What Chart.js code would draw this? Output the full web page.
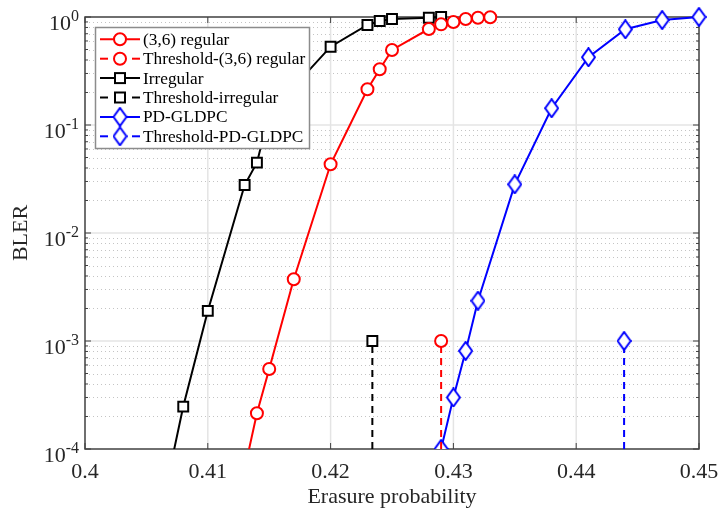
<!DOCTYPE html>
<html>
<head>
<meta charset="utf-8">
<script src="https://cdn.jsdelivr.net/npm/chart.js@4.4.1/dist/chart.umd.min.js"></script>
<style>
  html, body { margin: 0; padding: 0; background: #fff; }
  #wrap { width: 723px; height: 516px; position: relative; }
</style>
</head>
<body>
<div id="wrap"><canvas id="chart"></canvas></div>
<script>
const SERIF = '"Liberation Serif", "Times New Roman", serif';
const AXIS_COLOR = '#404040';
const TEXT_COLOR = '#262626';

// BLER vs erasure probability for each code
const regularX = [0.413, 0.414, 0.415, 0.417, 0.42, 0.423, 0.424, 0.425, 0.428, 0.429, 0.43, 0.431, 0.432, 0.433];
const regularBler = [6.5e-5, 2.14e-4, 5.5e-4, 3.73e-3, 0.0433, 0.214, 0.328, 0.495, 0.774, 0.855, 0.899, 0.958, 0.985, 0.995];
const irregularX = [0.407, 0.408, 0.41, 0.413, 0.414, 0.415, 0.42, 0.423, 0.424, 0.425, 0.428, 0.429];
const irregularBler = [7.2e-5, 2.47e-4, 1.9e-3, 0.0278, 0.0448, 0.127, 0.531, 0.843, 0.918, 0.958, 0.985, 1.0];
const gldpcX = [0.429, 0.43, 0.431, 0.432, 0.435, 0.438, 0.441, 0.444, 0.447, 0.45];
const gldpcBler = [1e-4, 3e-4, 8.1e-4, 2.36e-3, 0.0282, 0.143, 0.424, 0.77, 0.938, 1.0];

// BP thresholds, drawn as vertical dashed markers
const thresholdRegular = 0.429;
const thresholdIrregular = 0.4234;
const thresholdGldpc = 0.4439;
const thresholdBler = [1e-4, 1e-3];

const xTicks = [0.4, 0.41, 0.42, 0.43, 0.44, 0.45];
const yTicks = [1, 1e-1, 1e-2, 1e-3, 1e-4];
const yTickExponents = ['0', '-1', '-2', '-3', '-4'];
const seriesLabels = ['(3,6) regular', 'Threshold-(3,6) regular', 'Irregular', 'Threshold-irregular', 'PD-GLDPC', 'Threshold-PD-GLDPC'];

const RED = '#ff0000';
const BLACK = '#000000';
const BLUE = '#0000ff';

// tall diamond marker (Chart.js rectRot is a square)
function makeDiamond(color) {
    const c = document.createElement('canvas');
    c.width = 15;
    c.height = 20;
    const g = c.getContext('2d');
    g.beginPath();
    g.moveTo(7.5, 1);
    g.lineTo(14, 10);
    g.lineTo(7.5, 19);
    g.lineTo(1, 10);
    g.closePath();
    g.fillStyle = '#fff';
    g.fill();
    g.strokeStyle = color;
    g.lineWidth = 2;
    g.stroke();
    return c;
}
const diamond = makeDiamond(BLUE);

const toPoints = (xs, ys) => xs.map((x, i) => ({ x: x, y: ys[i] }));
const vertical = (x) => thresholdBler.map(y => ({ x: x, y: y }));
const clipBottom = { left: false, right: false, top: false, bottom: 0 };

// marker radius per style: squares need a larger radius to match the circles
const markerRadius = { circle: 6, rect: 7 };

function curve(label, data, color, style) {
    return {
        label: label,
        data: data,
        borderColor: color,
        backgroundColor: '#fff',
        borderWidth: 2,
        pointStyle: style,
        pointRadius: markerRadius[style] || 6,
        pointBorderWidth: 2,
        pointBackgroundColor: '#fff',
        pointBorderColor: color,
        clip: clipBottom
    };
}

function threshold(label, x, color, style) {
    const ds = curve(label, vertical(x), color, style);
    ds.borderDash = [7, 5];
    ds.pointRadius = [0, markerRadius[style] || 6];
    return ds;
}

const datasets = [
    curve(seriesLabels[0], toPoints(regularX, regularBler), RED, 'circle'),
    threshold(seriesLabels[1], thresholdRegular, RED, 'circle'),
    curve(seriesLabels[2], toPoints(irregularX, irregularBler), BLACK, 'rect'),
    threshold(seriesLabels[3], thresholdIrregular, BLACK, 'rect'),
    curve(seriesLabels[4], toPoints(gldpcX, gldpcBler), BLUE, diamond),
    threshold(seriesLabels[5], thresholdGldpc, BLUE, diamond)
];

function hline(ctx, x0, x1, y) {
    ctx.beginPath();
    ctx.moveTo(x0, y);
    ctx.lineTo(x1, y);
    ctx.stroke();
}

function vline(ctx, x, y0, y1) {
    ctx.beginPath();
    ctx.moveTo(x, y0);
    ctx.lineTo(x, y1);
    ctx.stroke();
}

// grid, box and inward ticks in the usual MATLAB look
const framePlugin = {
    id: 'frame',
    beforeDatasetsDraw(chart) {
        const { ctx, chartArea: a, scales: { x, y } } = chart;
        ctx.save();

        // minor dotted grid on the log axis
        ctx.strokeStyle = '#c4c4c4';
        ctx.lineWidth = 1;
        ctx.setLineDash([1, 3]);
        for (let d = 1; d < yTicks.length; d++) {
            for (let m = 2; m <= 9; m++) {
                const py = Math.round(y.getPixelForValue(yTicks[d] * m)) + 0.5;
                hline(ctx, a.left, a.right, py);
            }
        }
        ctx.setLineDash([]);

        // major grid
        ctx.strokeStyle = '#e4e4e4';
        ctx.lineWidth = 1.5;
        yTicks.slice(1, -1).forEach(v => hline(ctx, a.left, a.right, y.getPixelForValue(v)));
        xTicks.slice(1, -1).forEach(v => vline(ctx, x.getPixelForValue(v), a.top, a.bottom));

        // ticks pointing inward on all four sides
        ctx.strokeStyle = AXIS_COLOR;
        ctx.lineWidth = 1;
        xTicks.forEach(v => {
            const px = x.getPixelForValue(v);
            vline(ctx, px, a.bottom, a.bottom - 6);
            vline(ctx, px, a.top, a.top + 6);
        });
        for (let d = 0; d < yTicks.length; d++) {
            const py = y.getPixelForValue(yTicks[d]);
            hline(ctx, a.left, a.left + 6, py);
            hline(ctx, a.right, a.right - 6, py);
            if (d === 0) continue;
            for (let m = 2; m <= 9; m++) {
                const pm = y.getPixelForValue(yTicks[d] * m);
                hline(ctx, a.left, a.left + 3, pm);
                hline(ctx, a.right, a.right - 3, pm);
            }
        }

        // axes box
        ctx.lineWidth = 1.5;
        ctx.strokeRect(a.left, a.top, a.right - a.left, a.bottom - a.top);

        // 10^k labels on the y axis
        ctx.fillStyle = TEXT_COLOR;
        ctx.textBaseline = 'alphabetic';
        yTicks.forEach((v, i) => {
            const py = y.getPixelForValue(v);
            ctx.font = '16px ' + SERIF;
            const expW = ctx.measureText(yTickExponents[i]).width;
            const expX = a.left - 6 - expW;
            ctx.textAlign = 'left';
            ctx.fillText(yTickExponents[i], expX, py + 4);
            ctx.font = '22px ' + SERIF;
            ctx.textAlign = 'right';
            ctx.fillText('10', expX, py + 13);
        });
        ctx.restore();
    }
};

// boxed legend in the upper left corner, drawn over the curves
const legendPlugin = {
    id: 'boxLegend',
    afterDatasetsDraw(chart) {
        const ctx = chart.ctx;
        const left = 95.5, top = 27.5, width = 214, height = 121;
        const rowStep = 19.4, firstRow = 39.3;
        ctx.save();
        ctx.fillStyle = '#fff';
        ctx.fillRect(left, top, width, height);
        ctx.strokeStyle = '#8c8c8c';
        ctx.lineWidth = 1.5;
        ctx.strokeRect(left, top, width, height);

        chart.data.datasets.forEach((ds, i) => {
            const ry = firstRow + i * rowStep;
            const cx = 120;
            ctx.strokeStyle = ds.borderColor;
            ctx.lineWidth = 2;
            if (ds.borderDash) {
                hline(ctx, 100, 108, ry);
                hline(ctx, 132, 140, ry);
            } else {
                hline(ctx, 100, 140, ry);
            }
            ctx.fillStyle = '#fff';
            if (ds.pointStyle === 'circle') {
                ctx.beginPath();
                ctx.arc(cx, ry, 6, 0, Math.PI * 2);
                ctx.fill();
                ctx.stroke();
            } else if (ds.pointStyle === 'rect') {
                ctx.fillRect(cx - 5, ry - 5, 10, 10);
                ctx.strokeRect(cx - 5, ry - 5, 10, 10);
            } else {
                ctx.drawImage(ds.pointStyle, cx - ds.pointStyle.width / 2, ry - ds.pointStyle.height / 2);
            }
            ctx.fillStyle = BLACK;
            ctx.font = '17.3px ' + SERIF;
            ctx.textAlign = 'left';
            ctx.textBaseline = 'middle';
            ctx.fillText(ds.label, 143, ry + 1);
        });
        ctx.restore();
    }
};

const chart = new Chart(document.getElementById('chart'), {
    type: 'line',
    data: { datasets: datasets },
    options: {
        responsive: true,
        maintainAspectRatio: false,
        devicePixelRatio: 1,
        animation: false,
        layout: { padding: { left: 0, right: 24, top: 17, bottom: 0 } },
        plugins: {
            legend: { display: false },
            tooltip: { enabled: false }
        },
        scales: {
            x: {
                type: 'linear',
                min: 0.4,
                max: 0.45,
                afterBuildTicks: scale => { scale.ticks = xTicks.map(v => ({ value: v })); },
                afterFit: scale => {
                    scale.height = 67;
                    scale.paddingLeft = 0;
                    scale.paddingRight = 0;
                },
                grid: { display: false, drawTicks: false },
                border: { display: false },
                ticks: {
                    padding: 10,
                    color: TEXT_COLOR,
                    font: { family: SERIF, size: 22 },
                    maxRotation: 0,
                    callback: v => String(Number(v.toFixed(2)))
                },
                title: {
                    display: true,
                    text: 'Erasure probability',
                    color: TEXT_COLOR,
                    font: { family: SERIF, size: 22 },
                    padding: { top: 0, bottom: 6 }
                }
            },
            y: {
                type: 'logarithmic',
                min: 1e-4,
                max: 1,
                afterFit: scale => { scale.width = 85; },
                grid: { display: false, drawTicks: false },
                border: { display: false },
                ticks: { display: false },
                title: {
                    display: true,
                    text: 'BLER',
                    color: TEXT_COLOR,
                    font: { family: SERIF, size: 22 },
                    padding: { top: 8, bottom: 0 }
                }
            }
        }
    },
    plugins: [framePlugin, legendPlugin]
});
</script>
</body>
</html>
